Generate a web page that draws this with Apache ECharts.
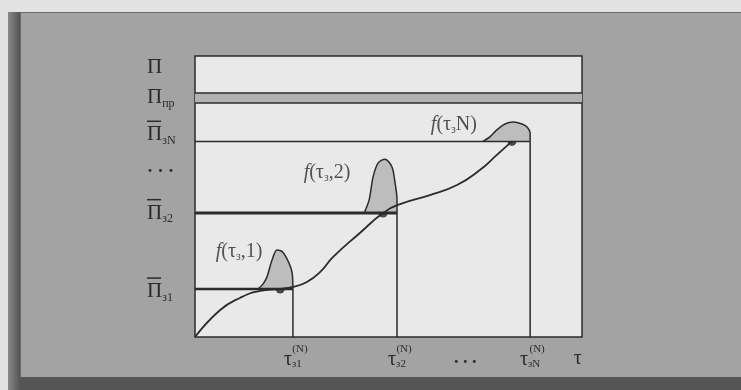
<!DOCTYPE html>
<html>
<head>
<meta charset="utf-8">
<script src="https://cdn.jsdelivr.net/npm/echarts@6/dist/echarts.min.js"></script>
<style>
  html, body { margin: 0; padding: 0; background: #e2e2e2; }
  .shadow { position: absolute; left: 8px; top: 12px; width: 733px; height: 378px; background: linear-gradient(90deg, #888 0px, #555 12px); }
  .panel { position: absolute; left: 20px; top: 12px; width: 721px; height: 365px; background: #a3a3a3; border-top: 1px solid #6a6a6a; border-left: 1px solid #6a6a6a; box-sizing: border-box; }
  #chart { position: absolute; left: 0; top: 0; width: 741px; height: 390px; }
</style>
</head>
<body>
<div class="shadow"></div>
<div class="panel"></div>
<div id="chart"></div>
<script>
// main curve (rising)
const curveX = [0, 6.5, 11.6, 16.8, 22.0, 25.3, 28.9, 32.3, 35.7, 42.6, 48.6, 53.0, 60.7, 67.7, 73.6, 78.0, 81.9];
const curveY = [0, 9.6, 13.9, 16.4, 17.1, 17.8, 19.6, 23.1, 28.5, 37.0, 44.1, 47.3, 50.5, 54.1, 59.4, 64.8, 69.6];

// density bumps f(tau)
const bump1X = [16.3, 17.6, 18.6, 19.9, 21.2, 22.7, 24.3, 25.1, 25.3];
const bump1Y = [17.1, 18.9, 21.4, 27.4, 31.0, 30.2, 26.3, 22.8, 17.1];
const bump2X = [43.7, 45.0, 46.0, 47.3, 49.1, 50.9, 51.7, 52.2, 52.2];
const bump2Y = [44.1, 48.8, 56.9, 61.9, 63.3, 60.5, 54.8, 48.8, 44.1];
const bumpNX = [74.4, 76.2, 78.0, 80.1, 82.2, 84.5, 85.8, 86.6, 86.6];
const bumpNY = [69.6, 71.2, 73.7, 75.8, 76.5, 75.8, 74.7, 72.6, 69.6];

// levels and moments
const levelValues = [17.1, 44.1, 69.6];
const levelWidths = [2.5, 3, 1.5];
const tauValues = [25.3, 52.2, 86.6];
const dotX = [22.0, 48.6, 81.9];
const bandLow = 83.3;
const bandHigh = 86.8;

// axis labels
const yLabelValues = [16.7, 44.6, 58.5, 72.5, 85.2, 96];
const yLabelTexts = [
  "{bar|}\n{o|П}{s|з1}",
  "{bar|}\n{o|П}{s|з2}",
  "{d|· · ·}",
  "{bar|}\n{o|П}{s|зN}",
  "{o|П}{s|пр}",
  "{o|П}",
];
const xLabelValues = [25.3, 52.2, 69.8, 86.6, 98.9];
const xLabelTexts = ["{t|τ}{s|з1}", "{t|τ}{s|з2}", "{d|. . .}", "{t|τ}{s|зN}", "{t|τ}"];
const xSupTexts = ["(N)", "(N)", "(N)"];

// f labels
const fLabelPos = [[11.4, 30.2], [34.1, 58.4], [66.9, 75.4]];
const fLabelTexts = ["{i|f}{n|(τ}{s|з}{n|,1)}", "{i|f}{n|(τ}{s|з}{n|,2)}", "{i|f}{n|(τ}{s|з}{n|N)}"];

const ink = "#2b2b2b";
const serif = "Liberation Serif";
const zip = (xs, ys) => xs.map((x, i) => [x, ys[i]]);

const chart = echarts.init(document.getElementById("chart"));

const series = [];

// band Pi_pr
series.push({
  type: "line",
  data: [],
  markArea: {
    silent: true,
    itemStyle: { color: "#b2b2b2" },
    data: [[{ yAxis: bandLow }, { yAxis: bandHigh }]],
  },
  markLine: {
    silent: true,
    symbol: "none",
    label: { show: false },
    lineStyle: { color: ink, width: 1.5, type: "solid" },
    data: [{ yAxis: bandLow }, { yAxis: bandHigh }],
  },
});

// bumps
[[bump1X, bump1Y, 0], [bump2X, bump2Y, 1], [bumpNX, bumpNY, 2]].forEach(([xs, ys, k]) => {
  series.push({
    type: "line",
    data: zip(xs, ys),
    smooth: 0.3,
    symbol: "none",
    lineStyle: { color: ink, width: 1.5 },
    areaStyle: { color: "#bdbdbd", opacity: 1, origin: levelValues[k] },
  });
});

// level lines and verticals
levelValues.forEach((v, k) => {
  series.push({
    type: "line",
    data: [[0, v], [tauValues[k], v]],
    symbol: "none",
    lineStyle: { color: ink, width: levelWidths[k] },
  });
  series.push({
    type: "line",
    data: [[tauValues[k], 0], [tauValues[k], v]],
    symbol: "none",
    lineStyle: { color: ink, width: 1.5 },
  });
});

// main curve
series.push({
  type: "line",
  data: zip(curveX, curveY),
  smooth: true,
  symbol: "none",
  lineStyle: { color: ink, width: 1.8 },
});

// dots
series.push({
  type: "scatter",
  data: zip(dotX, levelValues),
  symbolSize: 9,
  itemStyle: { color: "#222" },
});

// f labels
series.push({
  type: "scatter",
  data: fLabelPos,
  symbolSize: 0,
  label: {
    show: true,
    position: "inside",
    formatter: (p) => fLabelTexts[p.dataIndex],
    rich: {
      i: { fontFamily: serif, fontStyle: "italic", fontSize: 20, color: ink },
      n: { fontFamily: serif, fontSize: 20, color: ink },
      s: { fontFamily: serif, fontSize: 12, color: ink, padding: [10, 0, 0, 0] },
    },
  },
});

const option = {
  animation: false,
  grid: {
    left: 195, right: 159, top: 56, bottom: 53,
    show: true,
    backgroundColor: "#e9e9e9",
    borderColor: ink,
    borderWidth: 1.5,
  },
  xAxis: [
    {
      type: "value", min: 0, max: 100,
      axisLine: { show: false }, axisTick: { show: false }, splitLine: { show: false },
      axisLabel: {
        customValues: xLabelValues,
        margin: 12,
        formatter: (v) => xLabelTexts[xLabelValues.indexOf(v)],
        rich: {
          t: { fontFamily: serif, fontSize: 20, color: ink },
          s: { fontFamily: serif, fontSize: 11, color: ink, padding: [10, 0, 0, 0] },
          d: { fontFamily: serif, fontSize: 18, color: ink, fontWeight: "bold" },
        },
      },
    },
    {
      type: "value", min: 0, max: 100, position: "bottom",
      axisLine: { show: false }, axisTick: { show: false }, splitLine: { show: false },
      axisLabel: {
        customValues: tauValues,
        margin: 7,
        fontFamily: serif, fontSize: 11, color: ink,
        padding: [0, 0, 0, 14],
        formatter: (v) => xSupTexts[tauValues.indexOf(v)],
      },
    },
  ],
  yAxis: {
    type: "value", min: 0, max: 100,
    axisLine: { show: false }, axisTick: { show: false }, splitLine: { show: false },
    axisLabel: {
      customValues: yLabelValues,
      align: "left",
      margin: 48,
      formatter: (v) => yLabelTexts[yLabelValues.indexOf(v)],
      rich: {
        bar: { width: 14, height: 1.5, lineHeight: 3, backgroundColor: ink, align: "left" },
        o: { fontFamily: serif, fontSize: 21, color: ink },
        s: { fontFamily: serif, fontSize: 12, color: ink, padding: [12, 0, 0, 0] },
        d: { fontFamily: serif, fontSize: 18, color: ink, fontWeight: "bold" },
      },
    },
  },
  series: series,
};

chart.setOption(option);
</script>
</body>
</html>
